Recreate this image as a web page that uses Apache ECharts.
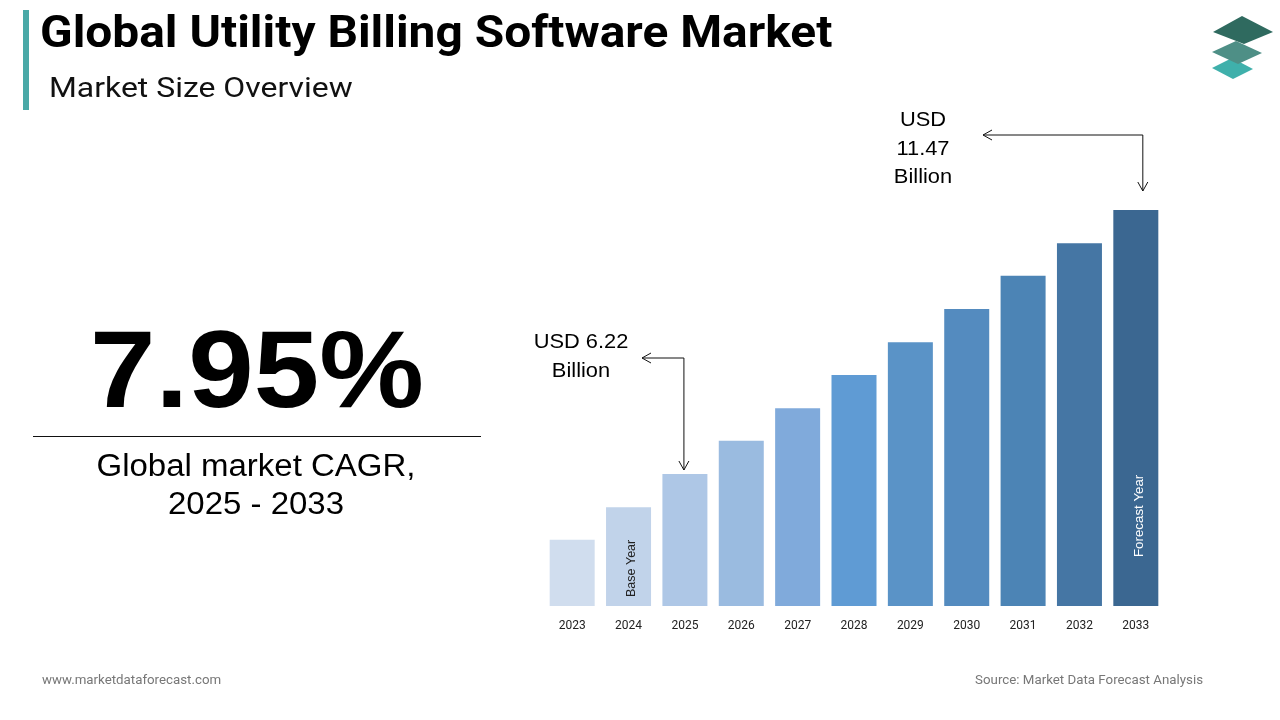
<!DOCTYPE html>
<html>
<head>
<meta charset="utf-8">
<script src="https://cdn.jsdelivr.net/npm/echarts@6/dist/echarts.min.js"></script>
<style>
html,body{margin:0;padding:0;background:#fff;}
#main{width:1280px;height:720px;}
</style>
</head>
<body>
<div id="main"></div>
<script>
const years = ['2023','2024','2025','2026','2027','2028','2029','2030','2031','2032','2033'];
const marketSize = [4.91, 5.56, 6.22, 6.88, 7.53, 8.19, 8.84, 9.50, 10.16, 10.81, 11.47];
const barColors = ['#d0ddee','#c1d3ea','#aec7e6','#9abbe0','#80aadb','#5f9bd4','#5a93c7','#548bbf','#4c84b5','#4576a4','#3b6791'];
const cagrText = '7.95%';
const cagrLabel = 'Global market CAGR,\n2025 - 2033';
const startLabel = 'USD 6.22\nBillion';
const endLabel = 'USD\n11.47\nBillion';

const chart = echarts.init(document.getElementById('main'));

const data = marketSize.map((v, i) => {
  const d = { value: v, itemStyle: { color: barColors[i] } };
  if (years[i] === '2024') {
    d.label = { show: true, formatter: 'Base Year', position: 'insideBottom', rotate: 90, align: 'left', verticalAlign: 'middle', distance: 9, offset: [0, 3], color: '#222', fontSize: 12.5, fontFamily: 'Liberation Sans' };
  }
  if (years[i] === '2033') {
    d.label = { show: true, formatter: 'Forecast Year', position: 'insideBottom', rotate: 90, align: 'left', verticalAlign: 'middle', distance: 49, offset: [0, 4], color: '#fff', fontSize: 13.3, fontFamily: 'Liberation Sans' };
  }
  return d;
});

const option = {
  animation: false,
  backgroundColor: '#ffffff',
  grid: { left: 544, right: 116, top: 210, bottom: 114 },
  xAxis: {
    type: 'category',
    data: years,
    axisLine: { show: false },
    axisTick: { show: false },
    axisLabel: { color: '#222', fontSize: 12, fontFamily: 'Roboto', margin: 14 }
  },
  yAxis: {
    type: 'value',
    min: 3.595,
    max: 11.47,
    show: false,
    splitLine: { show: false }
  },
  series: [{
    type: 'bar',
    data: data,
    barWidth: 45,
    label: { show: false }
  }]
};
chart.setOption(option);

const p25 = chart.convertToPixel({ seriesIndex: 0 }, ['2025', marketSize[2]]);
const p33 = chart.convertToPixel({ seriesIndex: 0 }, ['2033', marketSize[10]]);

function arrow(points) {
  return { type: 'polyline', shape: { points: points }, style: { stroke: '#111', lineWidth: 1, fill: null } };
}

const a1x = p25[0] - 1, a1y = 358, a1left = 642, a1bot = p25[1] - 4;
const a2x = p33[0] + 7, a2y = 135, a2left = 983, a2bot = p33[1] - 19;

chart.setOption({
  graphic: [
    { type: 'rect', shape: { x: 23, y: 10, width: 6, height: 100 }, style: { fill: '#4aa9a7' } },
    { type: 'text', x: 40, y: 36, scaleX: 1.088, style: { text: 'Global Utility Billing Software Market', fontSize: 44, fontWeight: 'bold', fontFamily: 'Roboto', fill: '#000', verticalAlign: 'middle' } },
    { type: 'text', x: 49, y: 90, scaleX: 1.14, style: { text: 'Market Size Overview', fontSize: 28, fontFamily: 'Roboto', fill: '#111', verticalAlign: 'middle' } },
    // logo
    { type: 'polygon', shape: { points: [[1212,68],[1232,58],[1253,69],[1233,79]] }, style: { fill: '#3fb0ab' } },
    { type: 'polygon', shape: { points: [[1212,52],[1236,41],[1262,53],[1238,64]] }, style: { fill: '#4e8f86' } },
    { type: 'polygon', shape: { points: [[1213,32],[1242,16],[1273,32],[1244,44]] }, style: { fill: '#2f6a5f' } },
    // CAGR block
    { type: 'text', x: 257, y: 377, scaleX: 1.08, style: { text: cagrText, fontSize: 109, fontWeight: 'bold', fontFamily: 'Liberation Sans', fill: '#000', align: 'center', verticalAlign: 'middle' } },
    { type: 'line', shape: { x1: 33, y1: 436.5, x2: 481, y2: 436.5 }, style: { stroke: '#111', lineWidth: 1 } },
    { type: 'text', x: 256, y: 486, scaleX: 1.064, style: { text: cagrLabel, fontSize: 31, lineHeight: 38, fontFamily: 'Liberation Sans', fill: '#000', align: 'center', verticalAlign: 'middle' } },
    // annotations
    { type: 'text', x: 581, y: 357, scaleX: 1.04, style: { text: startLabel, fontSize: 21, lineHeight: 29, fontFamily: 'Liberation Sans', fill: '#000', align: 'center', verticalAlign: 'middle' } },
    arrow([[a1left, a1y], [a1x, a1y], [a1x, a1bot]]),
    arrow([[a1left + 9, a1y - 5], [a1left, a1y], [a1left + 9, a1y + 5]]),
    arrow([[a1x - 5, a1bot - 9], [a1x, a1bot], [a1x + 5, a1bot - 9]]),
    { type: 'text', x: 923, y: 149, scaleX: 1.04, style: { text: endLabel, fontSize: 21, lineHeight: 28.5, fontFamily: 'Liberation Sans', fill: '#000', align: 'center', verticalAlign: 'middle' } },
    arrow([[a2left, a2y], [a2x, a2y], [a2x, a2bot]]),
    arrow([[a2left + 9, a2y - 5], [a2left, a2y], [a2left + 9, a2y + 5]]),
    arrow([[a2x - 5, a2bot - 9], [a2x, a2bot], [a2x + 5, a2bot - 9]]),
    // footer
    { type: 'text', left: 42, top: 674, style: { text: 'www.marketdataforecast.com', fontSize: 13.3, fontFamily: 'Roboto', fill: '#777' } },
    { type: 'text', right: 77, top: 674, style: { text: 'Source: Market Data Forecast Analysis', fontSize: 13.3, fontFamily: 'Roboto', fill: '#777' } }
  ]
});
</script>
</body>
</html>
